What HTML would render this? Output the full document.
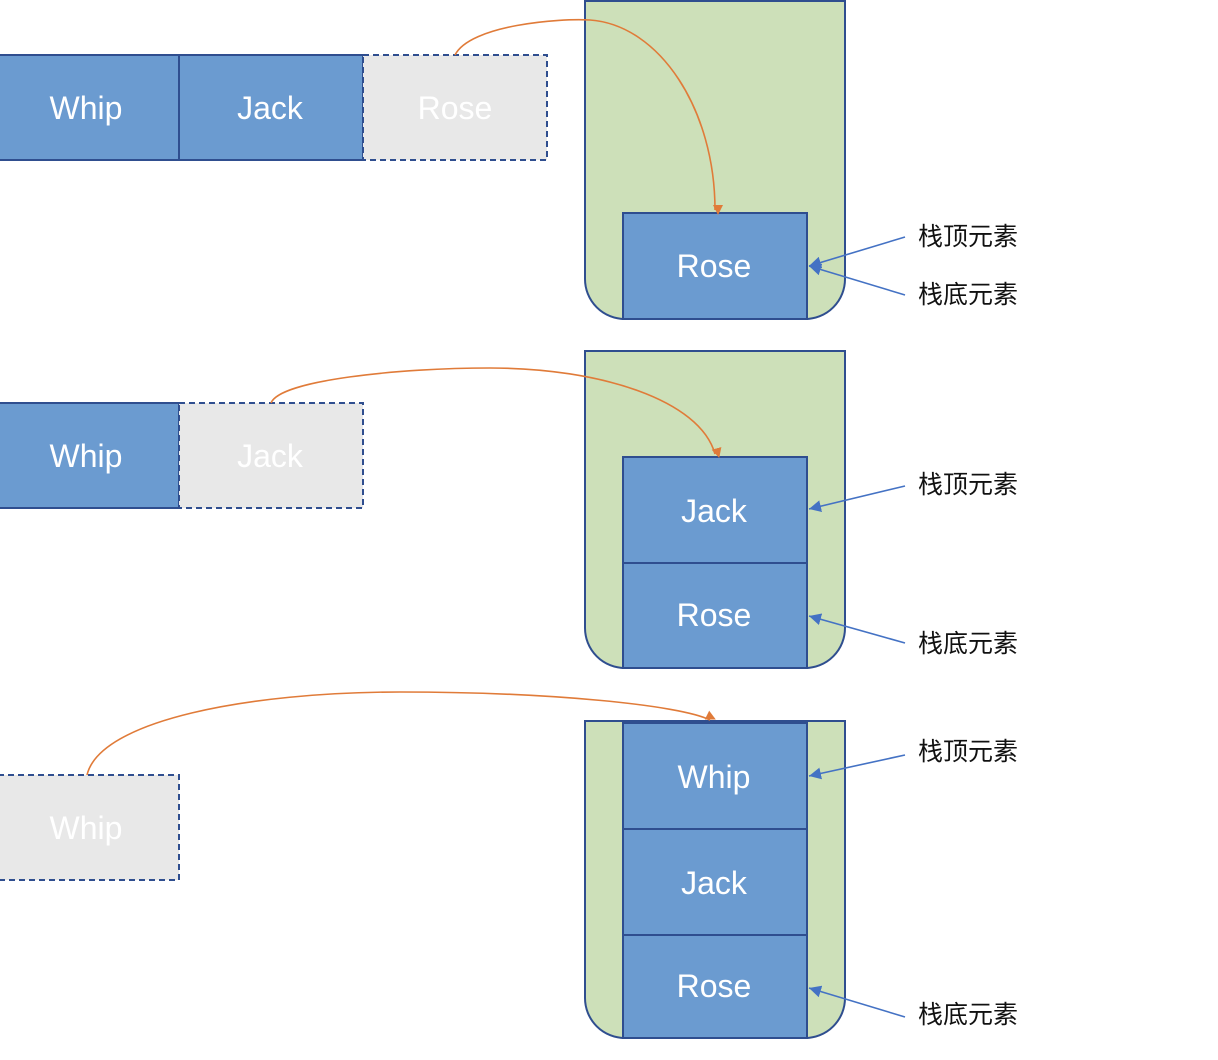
<!DOCTYPE html>
<html><head><meta charset="utf-8"><style>body{margin:0;background:#fff}svg{display:block}</style></head><body>
<svg width="1218" height="1060" viewBox="0 0 1218 1060" xmlns="http://www.w3.org/2000/svg">
<defs>
<marker id="ao" markerWidth="10" markerHeight="10" refX="5" refY="8" orient="auto" markerUnits="userSpaceOnUse" viewBox="0 0 10 10"><path d="M0,0 L10,5 L0,10 z" fill="#e07b39" transform="rotate(0)"/></marker>
<marker id="ab" markerWidth="12" markerHeight="12" refX="10" refY="5" orient="auto" markerUnits="userSpaceOnUse" viewBox="0 0 10 10"><path d="M0,0 L10,5 L0,10 z" fill="#4472c4"/></marker>
</defs>
<g stroke="#2f4e8f" stroke-width="2">
<path d="M585,1 H845 V279 A40,40 0 0 1 805,319 H625 A40,40 0 0 1 585,279 Z" fill="#cde0b9"/>
<path d="M585,351 H845 V628 A40,40 0 0 1 805,668 H625 A40,40 0 0 1 585,628 Z" fill="#cde0b9"/>
<path d="M585,721 H845 V998 A40,40 0 0 1 805,1038 H625 A40,40 0 0 1 585,998 Z" fill="#cde0b9"/>
<g fill="#6b9bd0">
<rect x="623" y="213" width="184" height="106"/>
<rect x="623" y="457" width="184" height="106"/>
<rect x="623" y="563" width="184" height="105"/>
<rect x="623" y="723" width="184" height="106"/>
<rect x="623" y="829" width="184" height="106"/>
<rect x="623" y="935" width="184" height="103"/>
<rect x="-2" y="55" width="181" height="105"/>
<rect x="179" y="55" width="184" height="105"/>
<rect x="-2" y="403" width="181" height="105"/>
</g>
<g fill="#e8e8e8" stroke-dasharray="6,4">
<rect x="363" y="55" width="184" height="105"/>
<rect x="179" y="403" width="184" height="105"/>
<rect x="-2" y="775" width="181" height="105"/>
</g>
</g>
<g fill="none" stroke="#e07b39" stroke-width="1.6">
<path d="M455,55 C470,25 560,18 590,20 C660,25 715,110 715,210" marker-end="url(#ao)"/>
<path d="M271,403 C280,380 400,368 490,368 C600,368 700,400 715,454" marker-end="url(#ao)"/>
<path d="M87,775 C100,720 250,692 400,692 C550,692 680,705 710,720" marker-end="url(#ao)"/>
</g>
<g stroke="#4472c4" stroke-width="1.6" fill="none">
<path d="M905,237 L809,266" marker-end="url(#ab)"/>
<path d="M905,295 L809,266" marker-end="url(#ab)"/>
<path d="M905,486 L809,509" marker-end="url(#ab)"/>
<path d="M905,643 L809,616" marker-end="url(#ab)"/>
<path d="M905,755 L809,776" marker-end="url(#ab)"/>
<path d="M905,1017 L809,988" marker-end="url(#ab)"/>
</g>
<g font-family="Liberation Sans, sans-serif" font-size="32" fill="#fff" text-anchor="middle" dominant-baseline="central">
<text x="86" y="108">Whip</text><text x="270" y="108">Jack</text><text x="455" y="108">Rose</text>
<text x="86" y="456">Whip</text><text x="270" y="456">Jack</text>
<text x="86" y="828">Whip</text>
<text x="714" y="266">Rose</text>
<text x="714" y="511">Jack</text><text x="714" y="615">Rose</text>
<text x="714" y="777">Whip</text><text x="714" y="883">Jack</text><text x="714" y="986">Rose</text>
</g>
<g font-family="Liberation Sans, 'Noto Sans CJK SC', sans-serif" font-size="25" fill="#111" dominant-baseline="central">
<text x="918" y="237">栈顶元素</text><text x="918" y="295">栈底元素</text>
<text x="918" y="485">栈顶元素</text><text x="918" y="644">栈底元素</text>
<text x="918" y="752">栈顶元素</text><text x="918" y="1015">栈底元素</text>
</g>
</svg>
</body></html>
